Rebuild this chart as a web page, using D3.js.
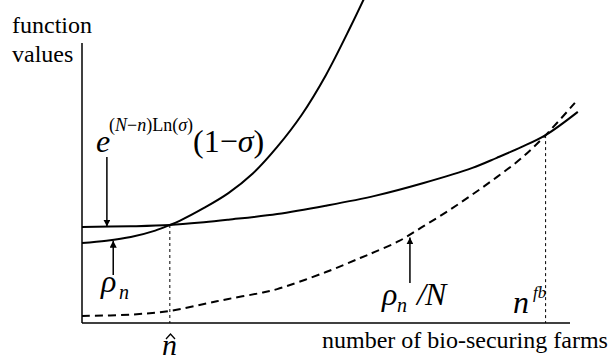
<!DOCTYPE html>
<html>
<head>
<meta charset="utf-8">
<script src="https://cdn.jsdelivr.net/npm/d3@7"></script>
<style>
  body { margin: 0; background: #fff; }
</style>
</head>
<body>
<div id="chart"></div>
<script>
// SVG size
var svgWidth = 611;
var svgHeight = 362;
var serif = "'Liberation Serif', 'Times New Roman', Times, 'DejaVu Serif', serif";

// plot area in pixels
var plot = { left: 82, right: 570, top: 43, bottom: 323 };

// number of bio-securing farms (abstract units) and curve values
var nRho = [0, 5, 10, 15, 18, 20, 25, 30, 35, 40, 45, 50, 55, 60];
var rhoValues = [28.6, 29.4, 30.7, 33.0, 35.0, 36.5, 41.1, 46.4, 53.4, 62.9, 74.3, 88.6, 105.7, 124];

var nExp = [0, 10, 18, 25, 30, 40, 50, 60, 70, 80, 85, 90, 95, 101.6];
var expValues = [34.3, 34.55, 35.0, 36.0, 36.9, 38.9, 41.9, 45.4, 50.0, 55.4, 59.0, 62.8, 67.1, 75.4];

var nRhoN = [0, 10, 18, 25, 30, 36.5, 40, 50, 57, 60, 65, 70, 75, 80, 85, 90, 95, 101];
var rhoNValues = [2.5, 3.0, 4.3, 6.8, 8.6, 10.7, 12.1, 18.2, 23.2, 25.4, 29.3, 34.6, 40.0, 45.9, 52.1, 58.8, 67.1, 78.6];

// crossing points marked on the axis
var nHat = 18;
var nFb = 95;

// where the arrows touch the curves
var expArrowN = 5.1;
var rhoArrowN = 6.4;
var rhoNArrowN = 67.2;

var svg = d3.select("#chart")
  .append("svg")
  .attr("width", svgWidth)
  .attr("height", svgHeight)
  .attr("font-family", serif);

var xScale = d3.scaleLinear().domain([0, 100]).range([plot.left, plot.right]);
var yScale = d3.scaleLinear().domain([0, 100]).range([plot.bottom, plot.top]);

// arrow head
svg.append("defs").append("marker")
  .attr("id", "head")
  .attr("viewBox", "0 0 10 10")
  .attr("refX", 10)
  .attr("refY", 5)
  .attr("markerWidth", 7)
  .attr("markerHeight", 7)
  .attr("markerUnits", "userSpaceOnUse")
  .attr("orient", "auto")
  .append("path")
  .attr("d", "M0,0 L10,5 L0,10 Z")
  .attr("fill", "#000");

function series(ns, vals) {
  return ns.map(function (n, i) { return { n: n, v: vals[i] }; });
}

var line = d3.line()
  .x(d => xScale(d.n))
  .y(d => yScale(d.v))
  .curve(d3.curveCatmullRom.alpha(0.5));

var rhoData = series(nRho, rhoValues);
var expData = series(nExp, expValues);
var rhoNData = series(nRhoN, rhoNValues);

// value of a series at n (linear lookup between read points)
function valueAt(data, n) {
  var i = d3.bisector(d => d.n).left(data, n);
  if (i <= 0) return data[0].v;
  var a = data[i - 1], b = data[i];
  return a.v + (b.v - a.v) * (n - a.n) / (b.n - a.n);
}

// dotted guides at the crossings
[nHat, nFb].forEach(function (n) {
  svg.append("line")
    .attr("x1", xScale(n)).attr("x2", xScale(n))
    .attr("y1", yScale(valueAt(expData, n))).attr("y2", plot.bottom)
    .attr("stroke", "#000")
    .attr("stroke-width", 1)
    .attr("stroke-dasharray", "3,3");
});

// curves
svg.append("path").datum(rhoData)
  .attr("d", line).attr("fill", "none").attr("stroke", "#000").attr("stroke-width", 2);
svg.append("path").datum(expData)
  .attr("d", line).attr("fill", "none").attr("stroke", "#000").attr("stroke-width", 2);
svg.append("path").datum(rhoNData)
  .attr("d", line).attr("fill", "none").attr("stroke", "#000").attr("stroke-width", 2)
  .attr("stroke-dasharray", "8,5");

// axes (plain lines, no ticks)
svg.append("line")
  .attr("x1", plot.left).attr("x2", plot.left)
  .attr("y1", plot.top).attr("y2", plot.bottom)
  .attr("stroke", "#000").attr("stroke-width", 1.5);
svg.append("line")
  .attr("x1", plot.left).attr("x2", plot.right)
  .attr("y1", plot.bottom).attr("y2", plot.bottom)
  .attr("stroke", "#000").attr("stroke-width", 1.5);

// axis titles
svg.append("text").attr("x", 12).attr("y", 33).attr("font-size", 24).text("function");
svg.append("text").attr("x", 12).attr("y", 62).attr("font-size", 24).text("values");
svg.append("text").attr("x", 322).attr("y", 348).attr("font-size", 24).text("number of bio-securing farms");

// arrows
svg.append("line")
  .attr("x1", xScale(expArrowN)).attr("x2", xScale(expArrowN))
  .attr("y1", 157).attr("y2", yScale(valueAt(expData, expArrowN)))
  .attr("stroke", "#000").attr("stroke-width", 1.5)
  .attr("marker-end", "url(#head)");
svg.append("line")
  .attr("x1", xScale(rhoArrowN)).attr("x2", xScale(rhoArrowN))
  .attr("y1", 275).attr("y2", yScale(valueAt(rhoData, rhoArrowN)) + 1)
  .attr("stroke", "#000").attr("stroke-width", 1.5)
  .attr("marker-end", "url(#head)");
svg.append("line")
  .attr("x1", xScale(rhoNArrowN)).attr("x2", xScale(rhoNArrowN))
  .attr("y1", 283).attr("y2", yScale(valueAt(rhoNData, rhoNArrowN)) + 3)
  .attr("stroke", "#000").attr("stroke-width", 1.5)
  .attr("marker-end", "url(#head)");

// e^{(N-n)Ln(sigma)}(1-sigma)
svg.append("text").attr("x", 96).attr("y", 152).attr("font-size", 32).attr("font-style", "italic").text("e");
var sup = svg.append("text").attr("x", 109).attr("y", 131).attr("font-size", 18);
sup.append("tspan").text("(");
sup.append("tspan").attr("font-style", "italic").text("N");
sup.append("tspan").text("\u2212");
sup.append("tspan").attr("font-style", "italic").text("n");
sup.append("tspan").text(")Ln(");
sup.append("tspan").attr("font-style", "italic").text("\u03C3");
sup.append("tspan").text(")");
var par = svg.append("text").attr("x", 193).attr("y", 152).attr("font-size", 32);
par.append("tspan").text("(1\u2212");
par.append("tspan").attr("font-style", "italic").text("\u03C3");
par.append("tspan").text(")");

// rho_n
svg.append("text").attr("x", 101).attr("y", 292).attr("font-size", 32).attr("font-style", "italic").text("\u03C1");
svg.append("text").attr("x", 119).attr("y", 299).attr("font-size", 20).attr("font-style", "italic").text("n");

// rho_n / N
svg.append("text").attr("x", 382).attr("y", 305).attr("font-size", 32).attr("font-style", "italic").text("\u03C1");
svg.append("text").attr("x", 397).attr("y", 312).attr("font-size", 20).attr("font-style", "italic").text("n");
svg.append("text").attr("x", 417).attr("y", 305).attr("font-size", 32).attr("font-style", "italic").text("/");
svg.append("text").attr("x", 425).attr("y", 305).attr("font-size", 32).attr("font-style", "italic").text("N");

// n^fb
svg.append("text").attr("x", 513).attr("y", 313).attr("font-size", 32).attr("font-style", "italic").text("n");
svg.append("text").attr("x", 533).attr("y", 298).attr("font-size", 17).attr("font-style", "italic").text("fb");

// n hat (hat drawn as a small chevron)
svg.append("text").attr("x", 162).attr("y", 355).attr("font-size", 30).attr("font-style", "italic").text("n");
svg.append("path")
  .attr("d", "M166,339 L170.5,334 L175,339")
  .attr("fill", "none").attr("stroke", "#000").attr("stroke-width", 1.3);
</script>
</body>
</html>
